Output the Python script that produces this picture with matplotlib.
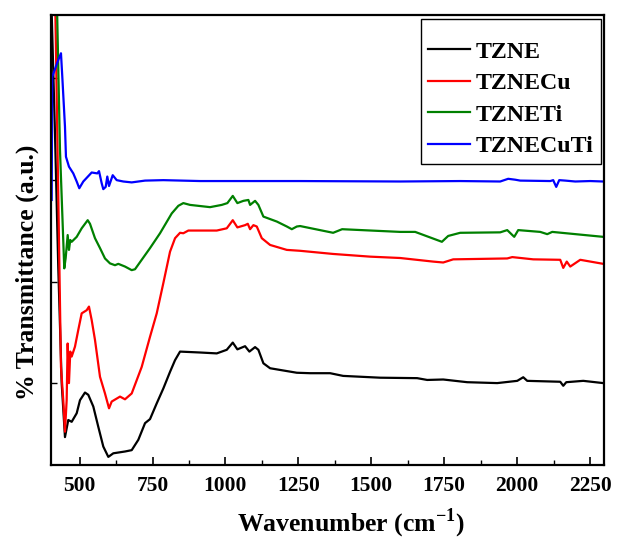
import matplotlib
matplotlib.use('Agg')
import matplotlib.pyplot as plt
from matplotlib.ticker import MultipleLocator

plt.rcParams['font.family'] = ['Liberation Serif', 'DejaVu Serif']
plt.rcParams['font.weight'] = 'bold'
plt.rcParams['mathtext.fontset'] = 'custom'
plt.rcParams['mathtext.rm'] = 'Liberation Serif:bold'
plt.rcParams['mathtext.bf'] = 'Liberation Serif:bold'

# FTIR spectra (wavenumber in cm-1, transmittance in a.u.)
tzne_w = [403.6, 415.6, 426.9, 438.6, 449.9, 461.2, 472.9, 490.1, 501.4, 518.5,
          529.8, 547.0, 564.1, 581.3, 598.5, 615.6, 655.7, 678.7, 701.4, 724.4,
          741.5, 764.5, 787.1, 810.1, 827.3, 844.4, 913.0, 970.3, 1004.6, 1025.2,
          1041.0, 1067.4, 1082.2, 1101.7, 1113.0, 1130.2, 1153.2, 1198.8, 1244.8, 1290.4,
          1359.0, 1403.6, 1530.6, 1657.4, 1691.8, 1746.7, 1829.0, 1931.9, 2000.5, 2021.1,
          2034.8, 2148.0, 2158.3, 2168.6, 2226.9, 2295.5]
tzne_t = [102.2, 73.8, 44.0, 18.2, 6.2, 10.0, 9.6, 11.5, 14.4, 16.1,
          15.6, 13.0, 8.5, 4.1, 1.8, 2.6, 3.0, 3.3, 5.6, 9.3,
          10.2, 13.7, 17.0, 20.7, 23.3, 25.2, 25.0, 24.8, 25.6, 27.2,
          25.7, 26.4, 25.2, 26.2, 25.6, 22.6, 21.5, 21.0, 20.5, 20.4,
          20.4, 19.8, 19.4, 19.3, 18.9, 19.0, 18.4, 18.2, 18.7, 19.5,
          18.7, 18.5, 17.6, 18.4, 18.7, 18.2]

tznecu_w = [416.6, 436.2, 444.1, 449.9, 455.7, 459.1, 463.6, 468.1, 472.9, 484.2,
            495.5, 507.2, 524.4, 532.2, 541.5, 552.8, 570.0, 587.1, 600.9, 610.1,
            638.6, 655.7, 678.7, 713.0, 741.5, 764.5, 787.1, 810.1, 827.3, 844.4,
            855.7, 872.9, 970.3, 1004.6, 1025.2, 1041.0, 1067.4, 1076.7, 1084.6, 1095.9,
            1107.5, 1124.7, 1153.2, 1210.5, 1256.1, 1369.3, 1496.2, 1599.1, 1712.3, 1746.7,
            1781.0, 1966.2, 1983.4, 2055.4, 2148.0, 2158.3, 2170.3, 2182.3, 2216.6, 2295.5]
tznecu_t = [102.2, 21.8, 14.4, 7.4, 14.4, 27.0, 18.2, 25.2, 24.1, 26.3,
            30.0, 33.7, 34.4, 35.2, 32.2, 27.8, 19.6, 15.9, 12.6, 14.1,
            15.2, 14.6, 15.9, 21.8, 28.5, 33.7, 40.4, 47.4, 50.4, 51.6,
            51.5, 52.1, 52.1, 52.6, 54.4, 52.8, 53.3, 53.6, 52.4, 53.3,
            53.0, 50.4, 48.9, 47.8, 47.6, 46.9, 46.3, 46.0, 45.2, 45.0,
            45.7, 45.9, 46.2, 45.7, 45.6, 43.8, 45.2, 44.1, 45.6, 44.7]

tzneti_w = [422.5, 432.8, 447.5, 452.3, 459.2, 463.6, 468.1, 472.9, 490.1, 507.2,
            527.8, 535.7, 552.8, 570.0, 587.1, 604.3, 621.4, 632.8, 655.7, 678.7,
            690.0, 713.0, 741.5, 775.8, 815.9, 838.6, 855.7, 878.7, 947.3, 987.5,
            1006.7, 1025.2, 1041.0, 1061.6, 1078.7, 1084.6, 1101.7, 1113.0, 1130.2, 1176.2,
            1210.5, 1227.6, 1244.8, 1256.1, 1369.3, 1400.2, 1599.1, 1650.6, 1742.2, 1763.8,
            1804.9, 1942.1, 1966.2, 1990.2, 2003.9, 2079.4, 2103.4, 2120.5, 2295.5]
tzneti_t = [102.2, 70.0, 43.7, 46.0, 51.1, 47.8, 50.0, 49.6, 50.7, 52.6,
            54.4, 53.6, 50.4, 48.2, 45.9, 44.8, 44.4, 44.7, 44.1, 43.3,
            43.5, 45.6, 48.2, 51.5, 55.9, 57.6, 58.2, 57.8, 57.3, 57.8,
            58.2, 59.8, 58.2, 58.7, 58.9, 57.8, 58.7, 57.8, 55.2, 54.1,
            53.0, 52.4, 53.0, 53.1, 51.6, 52.4, 51.8, 51.8, 49.6, 50.9,
            51.6, 51.7, 52.2, 50.7, 52.2, 51.8, 51.3, 51.8, 50.7]

tznecuti_w = [404.3, 406.3, 426.9, 436.2, 440.7, 449.9, 453.3, 463.6, 478.4, 490.1,
              499.0, 512.7, 541.5, 560.7, 566.6, 575.8, 581.3, 589.5, 595.0, 600.9,
              613.6, 627.3, 649.9, 678.7, 724.4, 787.1, 913.0, 1256.1, 1599.1, 1804.9,
              1942.1, 1969.5, 1993.5, 2010.7, 2113.6, 2123.9, 2134.2, 2144.5, 2165.1, 2199.4,
              2250.9, 2295.5]
tznecuti_t = [58.9, 86.3, 90.0, 91.5, 86.3, 75.2, 68.5, 66.3, 64.8, 63.0,
              61.5, 63.0, 65.0, 64.8, 65.3, 62.6, 61.3, 61.8, 64.1, 62.0,
              64.4, 63.3, 63.0, 62.8, 63.2, 63.3, 63.1, 63.1, 63.0, 63.1,
              63.0, 63.6, 63.4, 63.2, 63.1, 63.3, 61.8, 63.3, 63.2, 63.0,
              63.1, 63.0]

labels = ['TZNE', 'TZNECu', 'TZNETi', 'TZNECuTi']
colors = ['black', 'red', 'green', 'blue']

fig = plt.figure(figsize=(6.17, 5.46), dpi=100)
ax = fig.add_axes([51 / 617, 81 / 546, 553 / 617, 450 / 546])

series = [(tzne_w, tzne_t), (tznecu_w, tznecu_t), (tzneti_w, tzneti_t), (tznecuti_w, tznecuti_t)]
for (w, t), lab, c in zip(series, labels, colors):
    ax.plot(w, t, color=c, lw=1.6, label=lab)

ax.set_xlim(402, 2298)
ax.set_ylim(0, 100)
ax.xaxis.set_minor_locator(MultipleLocator(125))
ax.set_xticks([500, 750, 1000, 1250, 1500, 1750, 2000, 2250])
ax.set_yticks([18.2, 40.7, 63.3, 86.0])
ax.set_yticklabels([])
ax.tick_params(axis='x', which='major', direction='in', length=6, width=1.2,
               labelsize=15.5, pad=8)
ax.tick_params(axis='x', which='minor', direction='in', length=3.5, width=1.0)
ax.tick_params(axis='y', direction='in', length=4, width=1.0)
for lbl in ax.get_xticklabels():
    lbl.set_fontweight('bold')
for s in ax.spines.values():
    s.set_linewidth(1.6)

ax.set_xlabel(r'Wavenumber (cm$^{-1}$)', fontsize=18.5, fontweight='bold')
ax.xaxis.set_label_coords(0.542, -0.092)
ax.set_ylabel('% Transmittance (a.u.)', fontsize=18.5, fontweight='bold')
ax.yaxis.set_label_coords(-0.022, 0.429)

# blank title only adds the extra space above the first entry
leg = ax.legend(loc='upper right', bbox_to_anchor=(0.994, 0.991), borderaxespad=0,
                fancybox=False, edgecolor='black', framealpha=1,
                prop={'family': 'Liberation Serif', 'weight': 'bold', 'size': 17.2},
                handlelength=1.75, handletextpad=0.25, labelspacing=0.41,
                borderpad=0.3, title=' ', title_fontsize=5)
leg.get_frame().set_linewidth(1.0)

fig.savefig('out.png', dpi=100)
